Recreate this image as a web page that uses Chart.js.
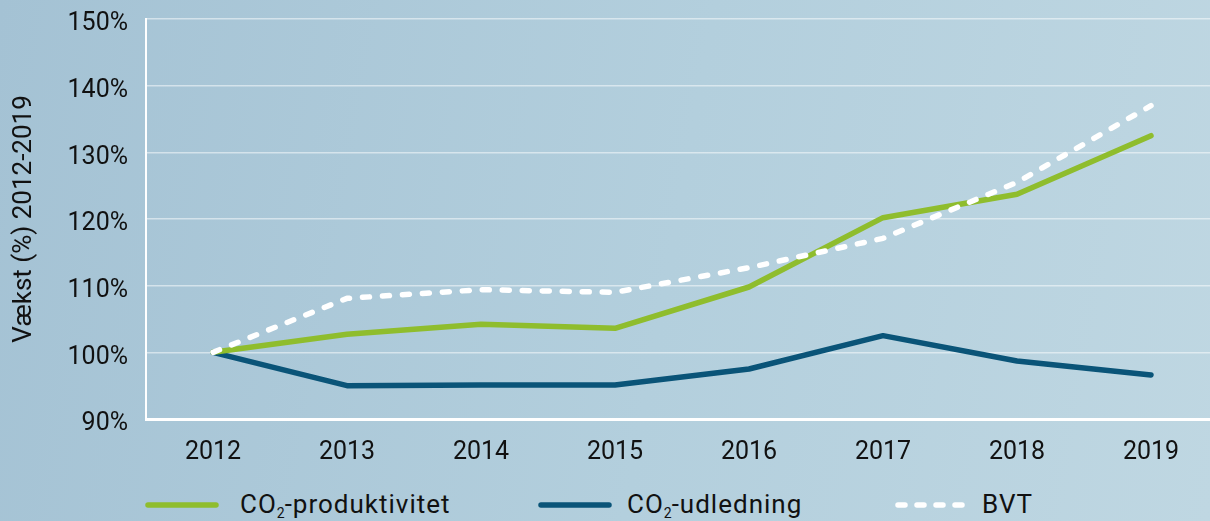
<!DOCTYPE html>
<html>
<head>
<meta charset="utf-8">
<script src="https://cdn.jsdelivr.net/npm/chart.js@4.4.0/dist/chart.umd.min.js"></script>
<style>
    html, body {
        margin: 0;
        padding: 0;
        width: 1210px;
        height: 521px;
        overflow: hidden;
        background: linear-gradient(100deg, #a4c2d4 0%, #b3cfdd 55%, #bfd7e2 100%);
        font-family: Roboto, "Liberation Sans", sans-serif;
    }
    .wrap {
        position: absolute;
        left: 0;
        top: 0;
        width: 1218px;
        height: 470px;
    }
    .legend {
        position: absolute;
        top: 488px;
        left: 0;
        width: 1210px;
        height: 34px;
    }
    .legend-line, .legend-text {
        position: absolute;
        top: 0;
        height: 32px;
        line-height: 32px;
        white-space: nowrap;
    }
    .legend-line svg {
        vertical-align: middle;
    }
    .legend-text {
        font-size: 26px;
        letter-spacing: 1px;
        color: #111;
    }
    .legend-text sub {
        font-size: 14px;
        vertical-align: -5px;
        line-height: 0;
        letter-spacing: 0;
    }
</style>
</head>
<body>
<div class="wrap"><canvas class="growth-chart" width="1218" height="470"></canvas></div>
<div class="legend"></div>

<script>
// categories and series (index 2012 = 100%)
const years = ['2012', '2013', '2014', '2015', '2016', '2017', '2018', '2019'];
const co2Produktivitet = [100, 102.7, 104.2, 103.6, 109.8, 120.2, 123.7, 132.5];
const co2Udledning = [100, 95.0, 95.1, 95.1, 97.5, 102.5, 98.7, 96.6];
const bvt = [100, 108.1, 109.4, 109.0, 112.7, 117.1, 125.5, 137.0];

const seriesNames = ['CO₂-produktivitet', 'CO₂-udledning', 'BVT'];
const yTicks = [90, 100, 110, 120, 130, 140, 150];

// legend layout (px)
const legendLineLeft = [144, 537, 894];
const legendTextLeft = [240, 627, 982];

const ctx = document.querySelector('.growth-chart');
const tickFont = { family: 'Roboto', size: 25 };

const chart = new Chart(ctx, {
    type: 'line',
    data: {
        labels: years,
        datasets: [{
            label: seriesNames[0],
            data: co2Produktivitet,
            borderColor: '#8fbd2d',
            borderWidth: 5.5,
            order: 1
        }, {
            label: seriesNames[1],
            data: co2Udledning,
            borderColor: '#0a5478',
            borderWidth: 5.5,
            order: 2
        }, {
            label: seriesNames[2],
            data: bvt,
            borderColor: '#ffffff',
            borderWidth: 5.5,
            borderDash: [7, 13],
            order: 0
        }]
    },
    options: {
        responsive: false,
        animation: false,
        layout: {
            padding: { top: 19, left: 0, right: 0, bottom: 0 }
        },
        elements: {
            point: { radius: 0 },
            line: {
                tension: 0,
                borderCapStyle: 'round',
                borderJoinStyle: 'round'
            }
        },
        scales: {
            x: {
                offset: true,
                border: { display: true, color: '#ffffff', width: 3 },
                grid: { display: false, drawTicks: false },
                ticks: { color: '#111', font: tickFont, padding: 19 },
                afterFit: (scale) => { scale.height = 51; }
            },
            y: {
                min: 90,
                max: 150,
                border: { display: true, color: '#ffffff', width: 2 },
                grid: {
                    color: 'rgba(255,255,255,0.5)',
                    lineWidth: 1.5,
                    drawTicks: false
                },
                afterBuildTicks: (scale) => {
                    scale.ticks = yTicks.map(v => ({ value: v }));
                },
                ticks: {
                    color: '#111',
                    font: tickFont,
                    padding: 18,
                    labelOffset: 5,
                    callback: (v) => v + '%'
                },
                title: {
                    display: true,
                    text: 'Vækst (%) 2012-2019',
                    color: '#111',
                    font: { family: 'Roboto', size: 26 },
                    padding: { top: 9, bottom: 0 }
                },
                afterFit: (scale) => {
                    scale.width = 146;
                    // the tick padding should not push the plot area down
                    scale.paddingTop = 0;
                    scale.paddingBottom = 0;
                }
            }
        },
        plugins: {
            legend: { display: false },
            tooltip: { enabled: false }
        }
    }
});

// HTML legend so the subscript 2 can be real text
const legendBox = document.querySelector('.legend');
chart.data.datasets.forEach((ds, i) => {
    const line = document.createElement('div');
    line.className = 'legend-line';
    line.style.left = legendLineLeft[i] + 'px';
    const dash = ds.borderDash ? 'stroke-dasharray="7 12"' : '';
    line.innerHTML =
        '<svg width="76" height="10"><line x1="4" y1="5" x2="72" y2="5" stroke="' + ds.borderColor +
        '" stroke-width="5.5" stroke-linecap="round" ' + dash + '/></svg>';
    legendBox.appendChild(line);

    const text = document.createElement('div');
    text.className = 'legend-text';
    text.style.left = legendTextLeft[i] + 'px';
    text.innerHTML = '<span>' + ds.label.replace('₂', '<sub>2</sub>') + '</span>';
    legendBox.appendChild(text);
});
</script>
</body>
</html>
